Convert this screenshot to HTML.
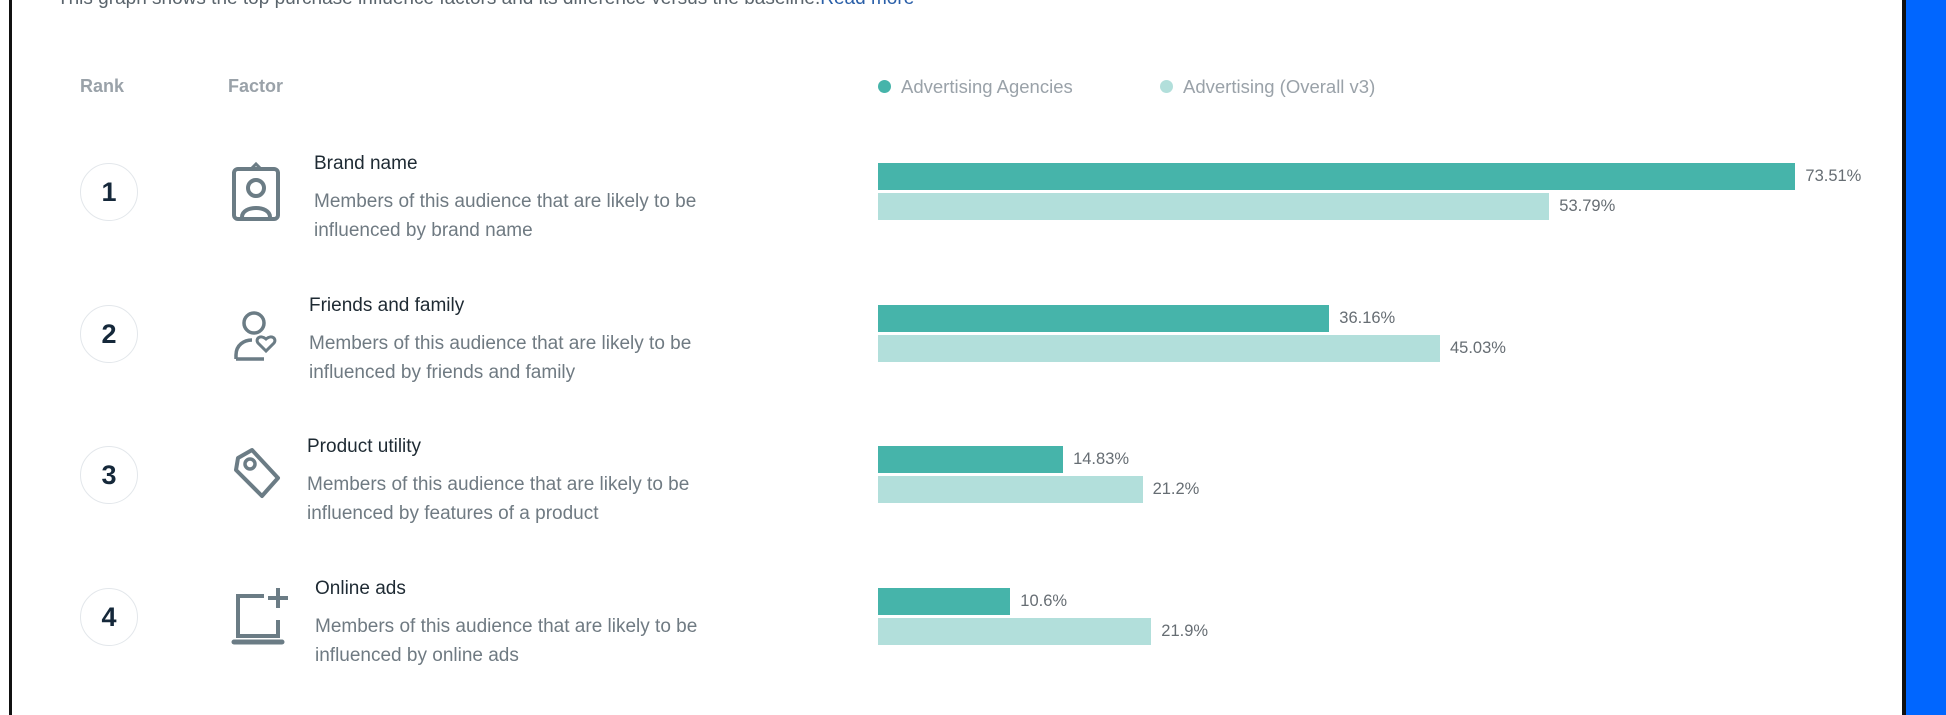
<!DOCTYPE html>
<html><head><meta charset="utf-8"><style>
body{margin:0;width:1946px;height:715px;overflow:hidden;background:#fff;position:relative;font-family:"Liberation Sans",sans-serif}
.a{position:absolute;white-space:nowrap}
.hdr{color:#9aa2a9;font-size:18px;font-weight:bold}
.circ{position:absolute;width:56px;height:56px;border:1.5px solid #e3e7eb;border-radius:50%;text-align:center;line-height:56px;font-weight:bold;font-size:27px;color:#15283a}
.title{color:#1e2a33;font-size:19px}
.desc{color:#6f7a82;font-size:19px;line-height:29px}
.lbl{color:#666d73;font-size:16.5px}
</style></head><body>
<div class="a" style="left:9px;top:0;width:3px;height:715px;background:#111"></div>
<div class="a" style="left:1902px;top:0;width:4px;height:715px;background:#111"></div>
<div class="a" style="left:1906px;top:0;width:40px;height:715px;background:#0066ff"></div>
<div class="a" style="left:57px;top:-12px;font-size:19px;color:#5a646c">This graph shows the top purchase influence factors and its difference versus the baseline.<span style="color:#2a5fa8">Read more</span></div>
<div class="a hdr" style="left:80px;top:76px">Rank</div>
<div class="a hdr" style="left:228px;top:76px">Factor</div>
<div class="a" style="left:878px;top:76px;font-size:18.5px;color:#9aa2a9"><span style="display:inline-block;width:13px;height:13px;border-radius:50%;background:#46b4aa;vertical-align:0px;margin-right:10px"></span>Advertising Agencies</div>
<div class="a" style="left:1160px;top:76px;font-size:18.5px;color:#9aa2a9"><span style="display:inline-block;width:13px;height:13px;border-radius:50%;background:#b2dfdb;vertical-align:0px;margin-right:10px"></span>Advertising (Overall v3)</div>
<div id="rows"></div>
<script>
const factors=["Brand name","Friends and family","Product utility","Online ads"];
const descs1=["Members of this audience that are likely to be","Members of this audience that are likely to be","Members of this audience that are likely to be","Members of this audience that are likely to be"];
const descs2=["influenced by brand name","influenced by friends and family","influenced by features of a product","influenced by online ads"];
const agencies=[73.51,36.16,14.83,10.6];
const overall=[53.79,45.03,21.2,21.9];
const agenciesLabels=["73.51%","36.16%","14.83%","10.6%"];
const overallLabels=["53.79%","45.03%","21.2%","21.9%"];
const textX=[314,309,307,315];
const icons=[
'<rect x="4" y="8" width="44" height="50" rx="4" fill="none" stroke="#6b7c85" stroke-width="4"/><path d="M21 8 L26 3 L31 8" fill="none" stroke="#6b7c85" stroke-width="3"/><circle cx="26" cy="27" r="8" fill="none" stroke="#6b7c85" stroke-width="4"/><path d="M12 56 C12 44 40 44 40 56" fill="none" stroke="#6b7c85" stroke-width="4"/>',
'<circle cx="24" cy="20" r="10" fill="none" stroke="#6b7c85" stroke-width="3.5"/><path d="M6 56 L6 52 C6 42 14 37 22 37" fill="none" stroke="#6b7c85" stroke-width="3.5"/><path d="M6 56 L34 56" stroke="#6b7c85" stroke-width="3.5"/><path d="M36 48 L28 40 C25 36 30 31 36 36 C42 31 47 36 44 40 Z" fill="none" stroke="#6b7c85" stroke-width="3"/>',
'<path d="M8 14 L22 6 L48 34 L32 52 L6 26 Z" fill="none" stroke="#6b7c85" stroke-width="4" stroke-linejoin="round"/><circle cx="20" cy="20" r="5" fill="none" stroke="#6b7c85" stroke-width="3.5"/>',
'<path d="M34 10 L8 10 L8 50 L48 50 L48 34" fill="none" stroke="#6b7c85" stroke-width="4"/><path d="M4 56 L52 56" stroke="#6b7c85" stroke-width="5" stroke-linecap="round"/><path d="M48 2 L48 22 M38 12 L58 12" stroke="#6b7c85" stroke-width="4"/>'
];
const X0=878, PX=12.48, ROW=141.6, CY0=192;
function xs(v){return v*PX;}
const root=document.getElementById('rows');
function mk(cls,name,css,html){const d=document.createElement('div');d.className='a '+cls;d.style.cssText=css;d.innerHTML=html;


root.appendChild(d);return d;}
for(let i=0;i<factors.length;i++){
 const cy=CY0+i*ROW;
 const c=document.createElement('div');c.className='circ';c.style.left=(109-29)+'px';c.style.top=(cy-29)+'px';c.textContent=(i+1);
 
 
 root.appendChild(c);
 mk('','factor-icon','left:230px;top:'+(cy-31)+'px','<svg width="62" height="62" viewBox="0 0 62 62">'+icons[i]+'</svg>');
 mk('title','factor-title','left:'+textX[i]+'px;top:'+(cy-39)+'px',factors[i]);
 mk('desc','factor-description','left:'+textX[i]+'px;top:'+(cy-5)+'px',descs1[i]+'<br>'+descs2[i]);
 const top1=cy-29;
 mk('','bar-agencies','left:'+X0+'px;top:'+top1+'px;width:'+xs(agencies[i])+'px;height:27px;background:#46b4aa','');
 mk('lbl','bar-label-agencies','left:'+(X0+xs(agencies[i])+10)+'px;top:'+(top1+4)+'px',agenciesLabels[i]);
 const top2=top1+30;
 mk('','bar-overall','left:'+X0+'px;top:'+top2+'px;width:'+xs(overall[i])+'px;height:27px;background:#b2dfdb','');
 mk('lbl','bar-label-overall','left:'+(X0+xs(overall[i])+10)+'px;top:'+(top2+4)+'px',overallLabels[i]);
}
</script>
</body></html>
